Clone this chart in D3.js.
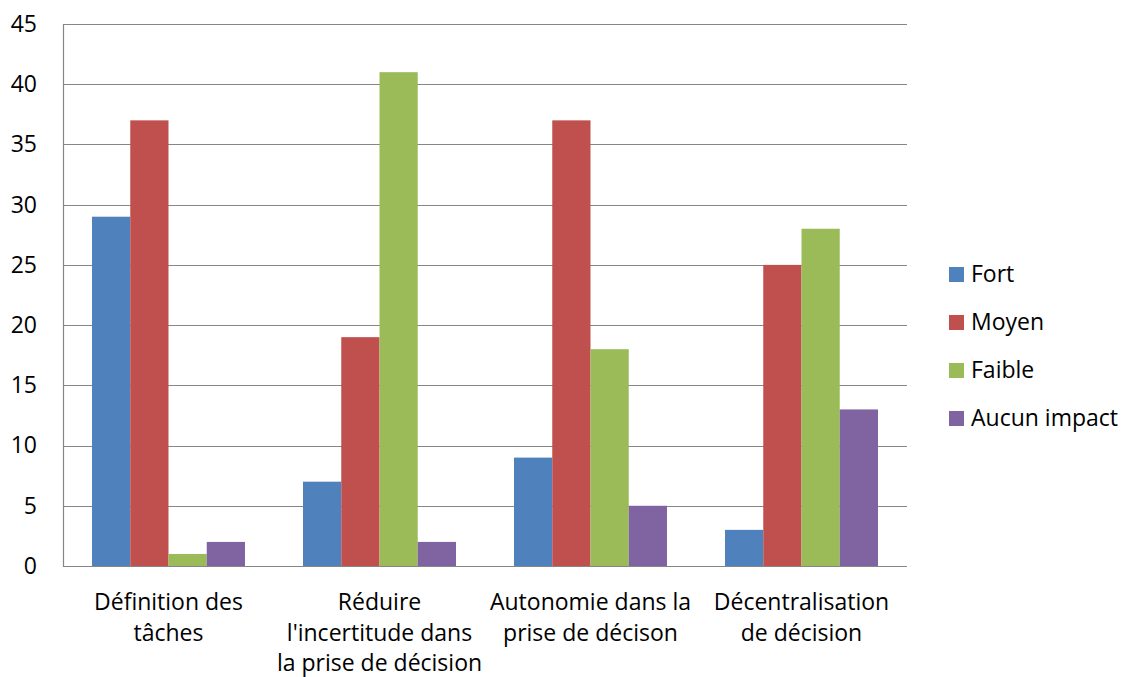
<!DOCTYPE html>
<html>
<head>
<meta charset="utf-8">
<script src="https://cdn.jsdelivr.net/npm/d3@7"></script>
<style>
  html, body { margin: 0; padding: 0; background: #fff; }
  svg { display: block; font-family: "Open Sans", Lato, sans-serif; }
</style>
</head>
<body>
<svg id="chart" width="1121" height="677"></svg>
<script>
// Categories (multi-line labels)
const categories = [
  ["Définition des", "tâches"],
  ["Réduire", "l'incertitude dans", "la prise de décision"],
  ["Autonomie dans la", "prise de décison"],
  ["Décentralisation", "de décision"]
];
const seriesNames = ["Fort", "Moyen", "Faible", "Aucun impact"];
const fort = [29, 7, 9, 3];
const moyen = [37, 19, 37, 25];
const faible = [1, 41, 18, 28];
const aucun = [2, 2, 5, 13];
const yTicks = [0, 5, 10, 15, 20, 25, 30, 35, 40, 45];
const colors = ["#4F81BD", "#C0504D", "#9BBB59", "#8064A2"];

const seriesValues = [fort, moyen, faible, aucun];
const FONT = 23;

const svg = d3.select("#chart");
const plot = { left: 63, right: 907, top: 24, bottom: 566 };

const x0 = d3.scaleBand()
  .domain(d3.range(categories.length))
  .range([plot.left, plot.right])
  .paddingInner(0.275)
  .paddingOuter(0.1375);

const x1 = d3.scaleBand()
  .domain(d3.range(seriesNames.length))
  .range([0, x0.bandwidth()]);

const y = d3.scaleLinear().domain([0, 45]).range([plot.bottom, plot.top]);

// Horizontal gridlines
svg.append("g")
  .selectAll("line")
  .data(yTicks.filter(d => d > 0))
  .join("line")
  .attr("x1", plot.left).attr("x2", plot.right)
  .attr("y1", d => Math.round(y(d)) + 0.5).attr("y2", d => Math.round(y(d)) + 0.5)
  .attr("stroke", "#868686").attr("stroke-width", 1.2);

// Bars
const groups = svg.append("g")
  .selectAll("g")
  .data(categories.map((c, i) => i))
  .join("g")
  .attr("transform", i => `translate(${x0(i)},0)`);

groups.selectAll("rect")
  .data(i => seriesValues.map((vals, s) => ({ s, v: vals[i] })))
  .join("rect")
  .attr("x", d => x1(d.s))
  .attr("width", x1.bandwidth())
  .attr("y", d => y(d.v))
  .attr("height", d => y(0) - y(d.v))
  .attr("fill", d => colors[d.s]);

// Axes lines
svg.append("line")
  .attr("x1", plot.left + 0.5).attr("x2", plot.left + 0.5)
  .attr("y1", plot.top).attr("y2", plot.bottom + 1)
  .attr("stroke", "#868686").attr("stroke-width", 1.2);
svg.append("line")
  .attr("x1", plot.left).attr("x2", plot.right)
  .attr("y1", plot.bottom + 0.5).attr("y2", plot.bottom + 0.5)
  .attr("stroke", "#868686").attr("stroke-width", 1.2);

// Y tick labels
const yAxis = d3.axisLeft(y).tickValues(yTicks).tickSize(0).tickPadding(26);
const yG = svg.append("g").attr("transform", `translate(${plot.left},0)`).call(yAxis);
yG.select(".domain").remove();
yG.selectAll("text")
  .attr("font-family", "'Open Sans', Lato, sans-serif")
  .attr("font-size", FONT).attr("fill", "#000");

// X category labels
const xLab = svg.append("g");
categories.forEach((lines, i) => {
  const cx = x0(i) + x0.bandwidth() / 2;
  const t = xLab.append("text")
    .attr("x", cx)
    .attr("y", 610)
    .attr("text-anchor", "middle")
    .attr("font-size", FONT).attr("fill", "#000");
  lines.forEach((ln, k) => {
    t.append("tspan").attr("x", cx).attr("dy", k === 0 ? 0 : 30.5).text(ln);
  });
});

// Legend
const legend = svg.append("g").attr("transform", "translate(949,267)");
seriesNames.forEach((name, s) => {
  const g = legend.append("g").attr("transform", `translate(0,${s * 48})`);
  g.append("rect").attr("width", 15).attr("height", 15).attr("fill", colors[s]);
  g.append("text").attr("x", 22).attr("y", 15).attr("font-size", FONT).attr("fill", "#000").text(name);
});
</script>
</body>
</html>
